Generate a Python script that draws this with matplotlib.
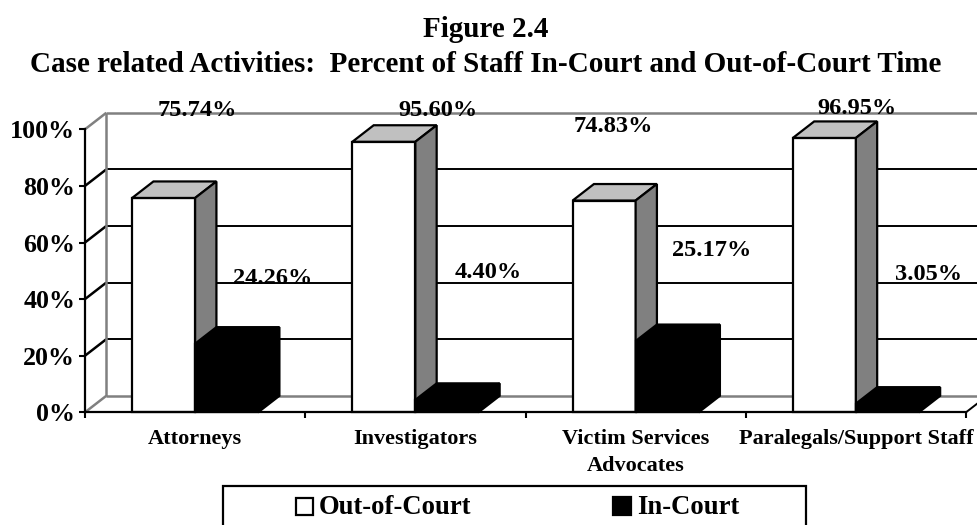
import matplotlib
matplotlib.use("Agg")
import matplotlib.pyplot as plt
from matplotlib.patches import Rectangle

plt.rcParams['font.family'] = ['Liberation Serif', 'DejaVu Serif']
plt.rcParams['font.weight'] = 'bold'

categories = ["Attorneys", "Investigators", "Victim Services\nAdvocates", "Paralegals/Support Staff"]
out_court = [75.74, 95.60, 74.83, 96.95]
in_court = [24.26, 4.40, 25.17, 3.05]
y_ticks = [0, 20, 40, 60, 80, 100]

# hand placed data labels in the original, pixel centres
out_label_pos = [(197.5, 110), (438, 110), (613, 127), (857, 109)]
in_label_pos = [(273, 279), (488, 272), (712, 250), (928, 275)]

W, H = 977, 525
fig = plt.figure(figsize=(W / 100, H / 100), dpi=100)
ax = fig.add_axes([85 / W, (H - 412.3) / H, 881 / W, 283 / H])
ax.set_xlim(0, 4)
ax.set_ylim(0, 100)
ax.patch.set_alpha(0)

dx = 0.0967   # depth of the fake 3d, x units
dy = 5.83     # depth, y units
bar_w = 0.286
gap = (1 - 2 * bar_w) / 2


def wall_line(xs, ys, color, lw=1.3):
    ax.plot(xs, ys, color=color, lw=lw, clip_on=False, zorder=1, solid_capstyle='butt')


# back wall and floor
for v in y_ticks:
    col = "#808080" if v in (0, 100) else "black"
    lw = 1.8 if v in (0, 100) else 1.4
    wall_line([dx, 4 + dx], [v + dy, v + dy], col, lw)
    wall_line([0, dx], [v, v + dy], col, 1.8)
wall_line([dx, dx], [dy, 100 + dy], "#808080", 1.8)
wall_line([4, 4 + dx], [0, dy], "black", 1.4)


def bar3d(x, h, front, top, side):
    ax.bar(x, h, bar_w, align='edge', color=front, edgecolor='black', lw=1.6, zorder=3, clip_on=False)
    ax.fill([x, x + dx, x + bar_w + dx, x + bar_w], [h, h + dy, h + dy, h],
            facecolor=top, edgecolor='black', lw=1.6, zorder=3, clip_on=False)
    ax.fill([x + bar_w, x + bar_w + dx, x + bar_w + dx, x + bar_w], [0, dy, h + dy, h],
            facecolor=side, edgecolor='black', lw=1.6, zorder=3, clip_on=False)


for i in range(len(categories)):
    bar3d(i + gap, out_court[i], "white", "#c0c0c0", "#808080")
    bar3d(i + gap + bar_w, in_court[i], "black", "black", "black")

for s in ('top', 'right'):
    ax.spines[s].set_visible(False)
for s in ('left', 'bottom'):
    ax.spines[s].set_linewidth(1.6)
    ax.spines[s].set_zorder(4)

ax.set_yticks(y_ticks)
ax.set_yticklabels([str(v) + "%" for v in y_ticks], fontsize=18.7, fontweight='bold')
ax.tick_params(axis='y', length=4, width=1.5, pad=3)
ax.set_xticks(range(5))
ax.set_xticklabels([])
ax.tick_params(axis='x', which='major', length=4.5, width=1.5)
ax.set_xticks([i + 0.5 for i in range(4)], categories, minor=True, fontsize=16, fontweight='bold',
              linespacing=1.5)
ax.tick_params(axis='x', which='minor', length=0, pad=12)

for val, (px, py) in zip(out_court, out_label_pos):
    fig.text(px / W, 1 - py / H, "%.2f%%" % val, fontsize=17.6, ha='center', va='center', zorder=6)
for val, (px, py) in zip(in_court, in_label_pos):
    fig.text(px / W, 1 - py / H, "%.2f%%" % val, fontsize=17.6, ha='center', va='center', zorder=6)

fig.text(486 / W, 1 - 37 / H, "Figure 2.4", fontsize=21, ha='center', va='baseline')
fig.text(486 / W, 1 - 72 / H, "Case related Activities:  Percent of Staff In-Court and Out-of-Court Time",
         fontsize=21, ha='center', va='baseline')

# legend box, runs off the bottom of the picture
fig.add_artist(Rectangle((223 / W, 1 - 540 / H), 583 / W, 54 / H, transform=fig.transFigure,
                         facecolor='white', edgecolor='black', lw=1.6))
fig.add_artist(Rectangle((295.5 / W, 1 - 515 / H), 17 / W, 17 / H, transform=fig.transFigure,
                         facecolor='white', edgecolor='black', lw=1.6))
fig.add_artist(Rectangle((612.5 / W, 1 - 515 / H), 18 / W, 18 / H, transform=fig.transFigure,
                         facecolor='black', edgecolor='black', lw=1.6))
fig.text(319 / W, 1 - 507 / H, "Out-of-Court", fontsize=19.2, ha='left', va='center')
fig.text(637 / W, 1 - 507 / H, "In-Court", fontsize=19.2, ha='left', va='center')

fig.savefig("out.png", dpi=100)
